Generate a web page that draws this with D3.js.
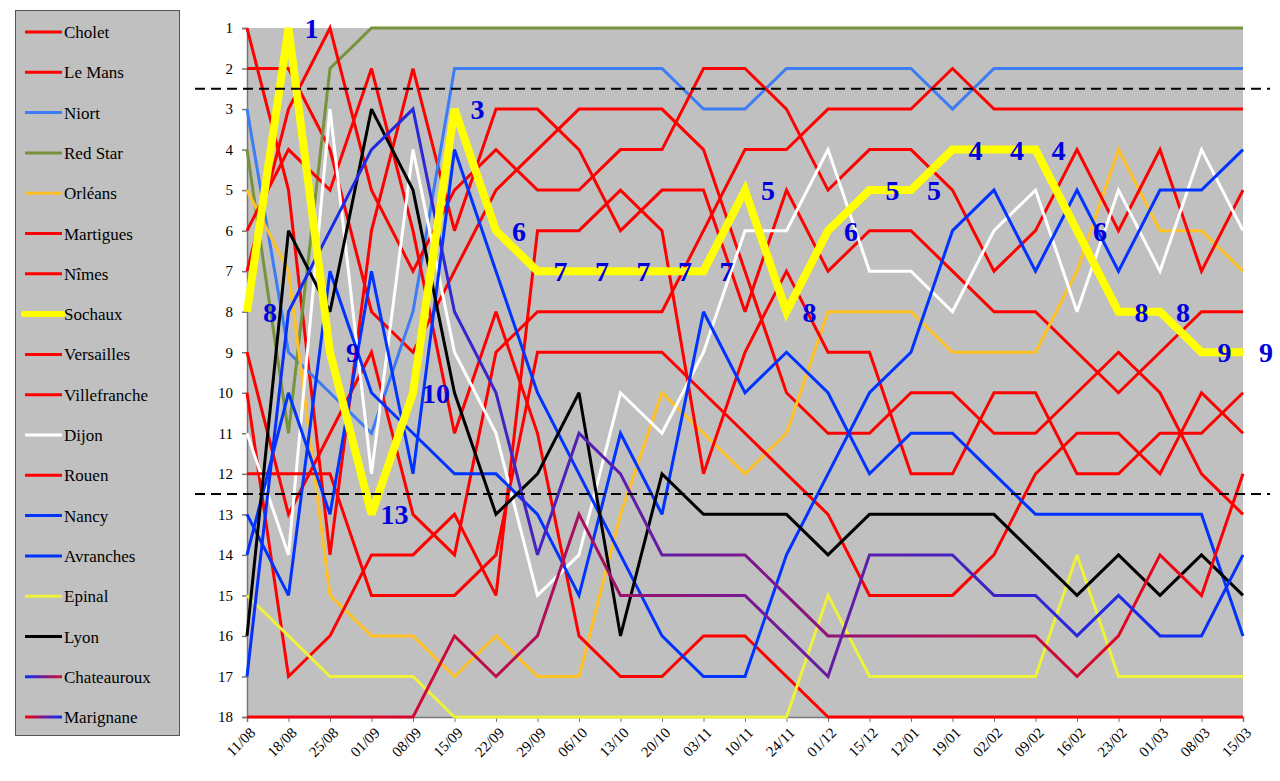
<!DOCTYPE html>
<html><head><meta charset="utf-8">
<script src="https://cdn.jsdelivr.net/npm/d3@7/dist/d3.min.js"></script>
<style>body{margin:0;background:#fff}svg{display:block}</style>
</head><body><svg id="c" width="1280" height="781"></svg>
<script>
const dates = ["11/08","18/08","25/08","01/09","08/09","15/09","22/09","29/09","06/10","13/10","20/10","03/11","10/11","24/11","01/12","15/12","12/01","19/01","02/02","09/02","16/02","23/02","01/03","08/03","15/03"];
const teamNames = ["Cholet","Le Mans","Niort","Red Star","Orléans","Martigues","Nîmes","Sochaux","Versailles","Villefranche","Dijon","Rouen","Nancy","Avranches","Epinal","Lyon","Chateauroux","Marignane"];
const rankTicks = [1,2,3,4,5,6,7,8,9,10,11,12,13,14,15,16,17,18];

const cholet       = [1,5,14,6,2,6,3,3,4,6,5,5,8,5,7,6,6,7,8,8,9,10,9,8,8];
const leMans       = [2,2,4,8,9,7,5,4,3,3,3,4,7,10,11,11,10,10,11,11,10,9,10,12,13];
const niort        = [3,9,10,11,8,2,2,2,2,2,2,3,3,2,2,2,2,3,2,2,2,2,2,2,2];
const redStar      = [4,11,2,1,1,1,1,1,1,1,1,1,1,1,1,1,1,1,1,1,1,1,1,1,1];
const orleans      = [5,7,15,16,16,17,16,17,17,13,10,11,12,11,8,8,8,9,9,9,7,4,6,6,7];
const martigues    = [6,4,5,2,6,11,8,11,16,17,17,16,16,17,18,18,18,18,18,18,18,18,18,18,18];
const nimes        = [7,3,1,5,7,5,4,5,5,4,4,2,2,3,5,4,4,5,7,6,4,6,4,7,5];
const sochaux      = [8,1,9,13,10,3,6,7,7,7,7,7,5,8,6,5,5,4,4,4,6,8,8,9,9];
const versailles   = [9,13,11,9,13,14,9,8,8,8,8,6,4,4,3,3,3,2,3,3,3,3,3,3,3];
const villefranche = [10,17,16,14,14,13,15,6,6,5,6,12,9,7,9,9,12,12,10,10,12,12,11,11,10];
const dijon        = [11,14,3,12,4,9,11,15,14,10,11,9,6,6,4,7,7,8,6,5,8,5,7,4,6];
const rouen        = [12,12,12,15,15,15,14,9,9,9,9,10,11,12,13,15,15,15,14,12,11,11,12,10,11];
const nancy        = [13,15,7,10,11,12,12,13,15,11,13,8,10,9,10,12,11,11,12,13,13,13,13,13,16];
const avranches    = [14,10,13,7,12,4,7,10,12,14,16,17,17,14,12,10,9,6,5,7,5,7,5,5,4];
const epinal       = [15,16,17,17,17,18,18,18,18,18,18,18,18,18,15,17,17,17,17,17,14,17,17,17,17];
const lyon         = [16,6,8,3,5,10,13,12,10,16,12,13,13,13,14,13,13,13,13,14,15,14,15,14,15];
const chateauroux  = [17,8,6,4,3,8,10,14,11,12,14,14,14,15,16,16,16,16,16,16,17,16,14,15,12];
const marignane    = [18,18,18,18,18,16,17,16,13,15,15,15,15,16,17,14,14,14,15,15,16,15,16,16,14];

const seriesValues = [cholet,leMans,niort,redStar,orleans,martigues,nimes,sochaux,versailles,villefranche,dijon,rouen,nancy,avranches,epinal,lyon,chateauroux,marignane];
const seriesColors = ["#ff0000","#ff0000","#3c7cf4","#77933c","#ffc125","#ff0000","#ff0000","#ffff00","#ff0000","#ff0000","#ffffff","#ff0000","#0033ff","#0033ff","#eef23a","#000000","url(#gChat)","url(#gMar)"];

const svg = d3.select("#c");
const pL = 247, pR = 1243, pT = 28, pB = 717;

const x = d3.scalePoint().domain(dates).range([pL, pR]);
const y = d3.scaleLinear().domain([1, 18]).range([pT, pB]);

const defs = svg.append("defs");
function grad(id, x1, x2, stops) {
  const g = defs.append("linearGradient").attr("id", id).attr("gradientUnits", "userSpaceOnUse")
    .attr("x1", x1).attr("x2", x2).attr("y1", 0).attr("y2", 0);
  stops.forEach(s => g.append("stop").attr("offset", s[0]).attr("stop-color", s[1]));
}
grad("gChat", pL, pR, [[0, "#0030ff"], [0.5, "#7a1890"], [1, "#ff0000"]]);
grad("gMar", pL, pR, [[0, "#ff0000"], [0.5, "#7a1890"], [1, "#0030ff"]]);
grad("lgChat", 25, 62, [[0, "#0030ff"], [0.5, "#7a1890"], [1, "#d01030"]]);
grad("lgMar", 25, 62, [[0, "#ff0000"], [0.5, "#7a1890"], [1, "#0030ff"]]);

// legend
svg.append("rect").attr("x", 15.5).attr("y", 10.5).attr("width", 164).attr("height", 725)
  .attr("fill", "#c0c0c0").attr("stroke", "#555").attr("stroke-width", 1);
teamNames.forEach((n, i) => {
  const ly = 32 + i * 40.3;
  let col = seriesColors[i];
  if (n === "Chateauroux") col = "url(#lgChat)";
  if (n === "Marignane") col = "url(#lgMar)";
  const s = n === "Sochaux";
  svg.append("line").attr("x1", s ? 24 : 25).attr("x2", s ? 63 : 62)
    .attr("y1", ly).attr("y2", ly).attr("stroke", col)
    .attr("stroke-width", s ? 6 : 3).attr("stroke-linecap", s ? "round" : "butt");
  svg.append("text").attr("x", 64).attr("y", ly + 6).text(n)
    .attr("font-family", "Liberation Serif, serif").attr("font-size", 17).attr("fill", "#000");
});

// plot background
svg.append("rect").attr("x", pL).attr("y", pT).attr("width", pR - pL).attr("height", pB - pT).attr("fill", "#c0c0c0");

// axes
const yAxis = svg.append("g").attr("transform", `translate(${pL},0)`)
  .call(d3.axisLeft(y).tickValues(rankTicks).tickSize(5).tickPadding(9).tickFormat(d3.format("d")));
yAxis.selectAll("text").attr("font-family", "Liberation Serif, serif").attr("font-size", 15).attr("fill", "#000");
yAxis.selectAll("line,path").attr("stroke", "#777").attr("stroke-width", 1.5);

const xAxis = svg.append("g").attr("transform", `translate(0,${pB})`)
  .call(d3.axisBottom(x).tickSize(5).tickPadding(6));
xAxis.select("path").attr("stroke", "#777").attr("stroke-width", 1.5);
xAxis.selectAll("line").attr("stroke", "#777");
xAxis.selectAll("text").attr("font-family", "Liberation Serif, serif").attr("font-size", 15).attr("fill", "#000")
  .attr("text-anchor", "end").attr("y", 0).attr("dy", "0.35em")
  .attr("transform", "translate(5,13) rotate(-45)");

// series lines
const line = d3.line().x((d, i) => x(dates[i])).y(d => y(d));
const order = d3.range(teamNames.length).filter(i => teamNames[i] !== "Sochaux");
order.push(teamNames.indexOf("Sochaux"));
order.forEach(i => {
  const s = teamNames[i] === "Sochaux";
  svg.append("path").datum(seriesValues[i]).attr("d", line).attr("fill", "none")
    .attr("stroke", seriesColors[i]).attr("stroke-width", s ? 8 : 3)
    .attr("stroke-linejoin", "miter").attr("stroke-miterlimit", 3);
});

// dashed lines
[2.5, 12.5].forEach(r => {
  svg.append("line").attr("x1", 195).attr("x2", 1270).attr("y1", y(r)).attr("y2", y(r))
    .attr("stroke", "#000").attr("stroke-width", 2).attr("stroke-dasharray", "10,6");
});

// Sochaux rank labels
svg.append("g").selectAll("text").data(sochaux).join("text")
  .attr("x", (d, i) => x(dates[i]) + 23).attr("y", d => y(d) + 10)
  .attr("text-anchor", "middle").attr("font-family", "Liberation Serif, serif")
  .attr("font-weight", "bold").attr("font-size", 28).attr("fill", "#0000dd").text(d => d);
</script></body></html>
